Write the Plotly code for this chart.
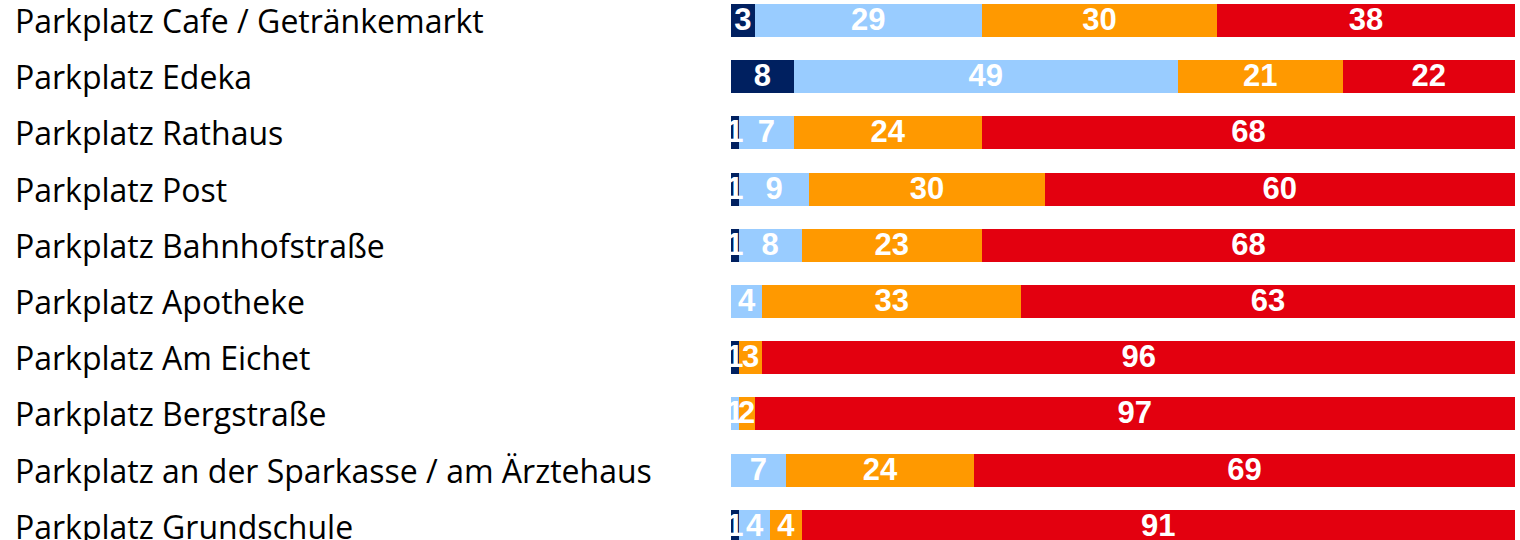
import plotly.graph_objects as go

categories = [
    "Parkplatz Cafe / Getränkemarkt",
    "Parkplatz Edeka",
    "Parkplatz Rathaus",
    "Parkplatz Post",
    "Parkplatz Bahnhofstraße",
    "Parkplatz Apotheke",
    "Parkplatz Am Eichet",
    "Parkplatz Bergstraße",
    "Parkplatz an der Sparkasse / am Ärztehaus",
    "Parkplatz Grundschule",
]
s1 = [3, 8, 1, 1, 1, 0, 1, 0, 0, 1]
s2 = [29, 49, 7, 9, 8, 4, 0, 1, 7, 4]
s3 = [30, 21, 24, 30, 23, 33, 3, 2, 24, 4]
s4 = [38, 22, 68, 60, 68, 63, 96, 97, 69, 91]
series = [s1, s2, s3, s4]
colors = ["#002060", "#99CCFF", "#FF9900", "#E3000F"]

W, H = 1520, 540
left, right = 731, 5
pitch = 56.2
ypos = list(range(len(categories)))
y_top = -20.5 / pitch
y_bot = (H - 20.5) / pitch

fig = go.Figure()
for vals, col in zip(series, colors):
    fig.add_trace(go.Bar(
        y=ypos, x=vals, orientation="h", marker=dict(color=col, line=dict(width=0)),
        width=0.587, showlegend=False, hoverinfo="skip"))

# label positions at segment midpoints
lx, ly, lt = [], [], []
for i in range(len(categories)):
    cum = 0
    for vals in series:
        v = vals[i]
        if v > 0:
            lx.append(cum + v / 2)
            ly.append(i + 0.03)
            lt.append(str(v))
        cum += v
fig.add_trace(go.Scatter(
    x=lx, y=ly, text=lt, mode="text", textposition="middle center",
    textfont=dict(family="Liberation Sans, Arial", size=31, color="white", weight="bold"),
    showlegend=False, hoverinfo="skip", cliponaxis=False))

plot_w = W - left - right
for i, c in enumerate(categories):
    fig.add_annotation(
        x=(13 - left) / plot_w, xref="paper", y=i, yref="y",
        text=c, showarrow=False, xanchor="left", yanchor="middle",
        font=dict(family="Open Sans", size=32, color="#000000"))

fig.update_layout(
    barmode="stack", bargap=0,
    width=W, height=H,
    margin=dict(l=left, r=right, t=0, b=0),
    paper_bgcolor="white", plot_bgcolor="white",
    xaxis=dict(range=[0, 100], visible=False, fixedrange=True),
    yaxis=dict(range=[y_bot, y_top], visible=False, fixedrange=True),
)
fig.write_html(
    "out.html",
    config={"displayModeBar": False},
    post_script="document.body.style.margin='0';document.body.style.overflow='hidden';",
)
